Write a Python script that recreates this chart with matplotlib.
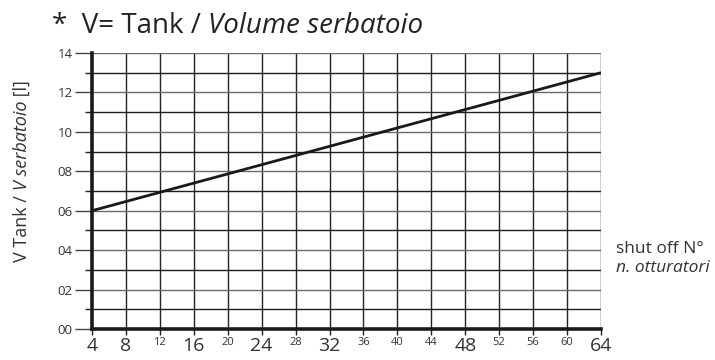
import matplotlib
matplotlib.use("Agg")
import matplotlib.pyplot as plt
import numpy as np

# Data
shutoffs = [4, 64]
volume = [6, 13]
x_ticks = [4, 8, 12, 16, 20, 24, 28, 32, 36, 40, 44, 48, 52, 56, 60, 64]
x_big = [4, 8, 16, 24, 32, 48, 64]
y_ticks = [0, 2, 4, 6, 8, 10, 12, 14]
y_labels = ["00", "02", "04", "06", "08", "10", "12", "14"]

plt.rcParams['font.family'] = ['Open Sans', 'DejaVu Sans']

fig = plt.figure(figsize=(7.15, 3.6), dpi=100)
ax = fig.add_axes([92/715, 1-329/360, (601-92)/715, (329-53)/360])

ax.set_xlim(4, 64)
ax.set_ylim(0, 14)

# grid lines
for v in x_ticks[1:]:
    ax.axvline(v, color='#222222', lw=1.0, zorder=1)
for h in range(1, 15):
    ax.axhline(h, color=('#6a6a6a' if h % 2 == 0 else '#1e1e1e'), lw=1.0, zorder=1)

ax.plot(shutoffs, volume, color='#1a1a1a', lw=2.0, zorder=3, solid_capstyle='butt')

for s in ['top', 'right']:
    ax.spines[s].set_visible(False)
ax.spines['left'].set_linewidth(2.6)
ax.spines['bottom'].set_linewidth(2.6)
ax.spines['left'].set_color('#1a1a1a')
ax.spines['bottom'].set_color('#1a1a1a')

ax.set_yticks(y_ticks)
ax.set_yticklabels(y_labels)
ax.set_yticks(range(1, 14, 2), minor=True)
ax.tick_params(axis='y', which='major', length=12, width=1.0, color='#444444',
               labelsize=9.5, labelcolor='#333333', pad=2)
ax.tick_params(axis='y', which='minor', length=5, width=1.0, color='#222222')

ax.set_xticks(x_ticks)
ax.set_xticklabels([str(v) for v in x_ticks])
ax.tick_params(axis='x', which='major', length=4, width=1.0, color='#222222',
               labelcolor='#333333', pad=1.5)
for lab, v in zip(ax.get_xticklabels(), x_ticks):
    lab.set_fontsize(14 if v in x_big else 8)

# Title
t1 = fig.text(52/715, 1-33/360, "*  V= Tank / ", fontsize=20, color='#222222',
              ha='left', va='baseline')
fig.canvas.draw()
ax.annotate("Volume serbatoio", xy=(1, 0), xycoords=t1, fontsize=20,
            style='italic', color='#222222', ha='left', va='bottom')

# Y label in pieces
y1 = fig.text(22/715, 1-262/360, "V Tank / ", rotation=90, fontsize=13,
              color='#333333', ha='center', va='bottom')
y2 = ax.annotate("V serbatoio", xy=(0.5, 1), xycoords=y1, rotation=90, fontsize=13,
                 style='italic', color='#333333', ha='center', va='bottom')
ax.annotate(" [l]", xy=(0.5, 1), xycoords=y2, rotation=90, fontsize=13,
            color='#333333', ha='center', va='bottom')

# right text
fig.text(616/715, 1-253/360, "shut off N°", fontsize=12.5, color='#333333',
         ha='left', va='baseline')
fig.text(616/715, 1-272/360, "n. otturatori", fontsize=12.5, style='italic',
         color='#333333', ha='left', va='baseline')

fig.savefig("out.png", dpi=100)
